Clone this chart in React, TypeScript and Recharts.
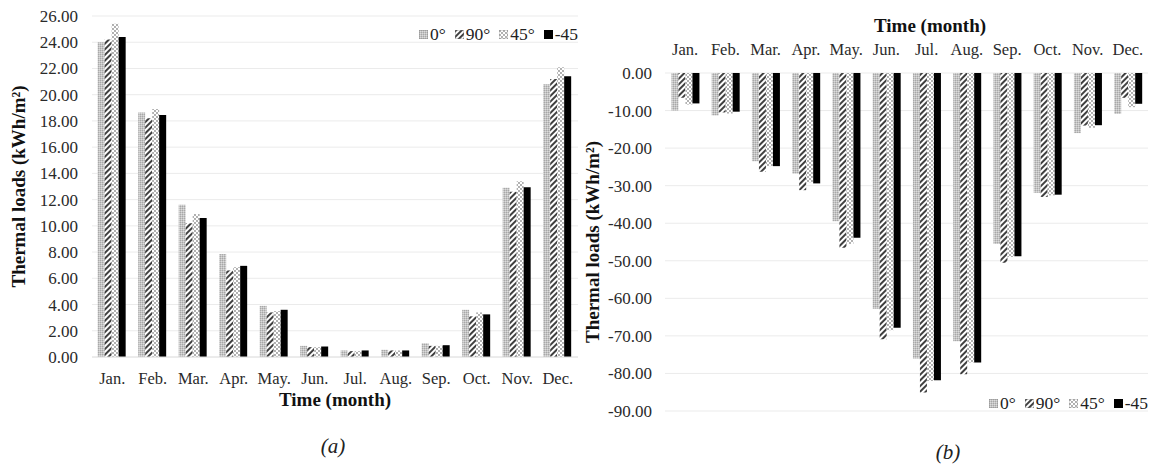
import React from 'react'
import { BarChart, Bar, XAxis, YAxis, CartesianGrid, Label } from 'recharts'

const months = ['Jan.', 'Feb.', 'Mar.', 'Apr.', 'May.', 'Jun.', 'Jul.', 'Aug.', 'Sep.', 'Oct.', 'Nov.', 'Dec.']
const orientations = ['0°', '90°', '45°', '-45']

// heating loads (kWh/m²)
const heat0 = [24.0, 18.65, 11.6, 7.85, 3.9, 0.85, 0.5, 0.55, 1.05, 3.6, 12.9, 20.8]
const heat90 = [24.2, 18.2, 10.2, 6.6, 3.4, 0.75, 0.45, 0.5, 0.85, 3.1, 12.6, 21.2]
const heat45 = [25.4, 18.9, 10.9, 6.85, 3.5, 0.75, 0.45, 0.5, 0.85, 3.4, 13.4, 22.1]
const heatM45 = [24.4, 18.45, 10.6, 6.95, 3.6, 0.8, 0.5, 0.5, 0.9, 3.25, 12.95, 21.4]

// cooling loads (kWh/m²)
const cool0 = [-10.0, -11.3, -23.5, -26.8, -39.5, -62.8, -76.0, -71.4, -45.5, -31.9, -16.0, -10.9]
const cool90 = [-6.6, -10.5, -26.3, -31.2, -46.5, -70.9, -85.1, -80.2, -50.5, -33.0, -14.0, -6.6]
const cool45 = [-8.4, -10.8, -24.8, -29.1, -45.5, -68.5, -82.0, -77.1, -49.0, -32.6, -14.6, -9.1]
const coolM45 = [-8.1, -10.3, -24.8, -29.4, -43.9, -67.8, -81.8, -77.1, -48.8, -32.4, -13.9, -8.2]

const heatTicks = [0, 2, 4, 6, 8, 10, 12, 14, 16, 18, 20, 22, 24, 26]
const coolTicks = [0, -10, -20, -30, -40, -50, -60, -70, -80, -90]

const heatData = months.map((m, i) => ({ month: m, a0: heat0[i], a90: heat90[i], a45: heat45[i], am45: heatM45[i] }))
const coolData = months.map((m, i) => ({ month: m, a0: cool0[i], a90: cool90[i], a45: cool45[i], am45: coolM45[i] }))

const FONT = "'Liberation Serif', 'Times New Roman', serif"
const KEYS = ['a0', 'a90', 'a45', 'am45']
const FILLS = ['url(#pat-0)', 'url(#pat-90)', 'url(#pat-45)', '#000']

const Patterns = () => (
  <defs>
    <pattern id="pat-0" width="2" height="2" patternUnits="userSpaceOnUse">
      <rect width="2" height="2" fill="#c4c4c4" />
      <rect width="1" height="1" fill="#a8a8a8" />
      <rect x="1" y="1" width="1" height="1" fill="#dcdcdc" />
    </pattern>
    <pattern id="pat-90" width="4" height="4" patternUnits="userSpaceOnUse" patternTransform="rotate(45)">
      <rect width="4" height="4" fill="#fff" />
      <line x1="1" y1="0" x2="1" y2="4" stroke="#2a2a2a" strokeWidth="1.8" />
    </pattern>
    <pattern id="pat-45" width="4" height="4" patternUnits="userSpaceOnUse">
      <rect width="4" height="4" fill="#fff" />
      <circle cx="1" cy="1" r="0.9" fill="#8c8c8c" />
      <circle cx="3" cy="3" r="0.9" fill="#8c8c8c" />
    </pattern>
  </defs>
)

// legend row, swatches reuse the bar patterns
const SeriesLegend = ({ style }: { style: React.CSSProperties }) => (
  <div style={{ position: 'absolute', display: 'flex', gap: 9, fontSize: 17.5, color: '#222', ...style }}>
    {orientations.map((o, i) => (
      <div key={o} style={{ display: 'flex', alignItems: 'center', gap: 2 }}>
        <svg width="9" height="9">
          <rect width="9" height="9" fill={FILLS[i]} stroke="#888" strokeWidth={i === 3 ? 0 : 0.6} />
        </svg>
        <span>{o}</span>
      </div>
    ))}
  </div>
)

const yTitle = (cx: number) =>
  // eslint-disable-next-line @typescript-eslint/no-explicit-any
  (props: any) => {
    const { viewBox } = props
    const cy = viewBox.y + viewBox.height / 2
    return (
      <text
        x={cx}
        y={cy}
        transform={`rotate(-90 ${cx} ${cy})`}
        textAnchor="middle"
        dominantBaseline="central"
        fontWeight="bold"
        fontSize={19}
        fill="#111"
      >
        Thermal loads (kWh/m²)
      </text>
    )
  }

const xTickStyle = { fontSize: 16.5, fill: '#2a2a2a' }
const yTickStyle = { fontSize: 17, fill: '#2a2a2a' }

export default function App() {
  return (
    <div style={{ position: 'absolute', left: 0, top: 0, width: 1150, height: 468, background: '#fff', fontFamily: FONT }}>
      <div style={{ position: 'absolute', left: 0, top: 0 }}>
        <BarChart width={590} height={420} data={heatData} margin={{ top: 16, right: 12, bottom: 33, left: 0 }} barCategoryGap="14%" barGap={0}>
          <Patterns />
          <CartesianGrid vertical={false} stroke="#ebebeb" />
          <XAxis dataKey="month" height={30} tickLine={false} tickSize={0} tickMargin={15} axisLine={{ stroke: '#e2e2e2' }} tick={xTickStyle} interval={0}>
            <Label value="Time (month)" position="bottom" offset={6} style={{ fontWeight: 'bold', fontSize: 19, fill: '#111' }} />
          </XAxis>
          <YAxis width={92} domain={[0, 26]} ticks={heatTicks} tickFormatter={(v: number) => v.toFixed(2)} axisLine={false} tickLine={false} tickSize={0} tickMargin={14} tick={yTickStyle} interval={0}>
            <Label content={yTitle(18)} />
          </YAxis>
          {KEYS.map((k, i) => (
            <Bar key={k} dataKey={k} name={orientations[i]} fill={FILLS[i]} isAnimationActive={false} />
          ))}
        </BarChart>
      </div>
      <SeriesLegend style={{ right: 572, top: 24 }} />

      <div style={{ position: 'absolute', left: 575, top: 0 }}>
        <BarChart width={575} height={440} data={coolData} margin={{ top: 0, right: 2, bottom: 29, left: 0 }} barCategoryGap="16%" barGap={0}>
          <Patterns />
          <CartesianGrid vertical={false} stroke="#ebebeb" />
          <XAxis dataKey="month" orientation="top" height={73} tickLine={false} tickSize={0} tickMargin={18} axisLine={false} tick={xTickStyle} interval={0}>
            <Label
              content={() => (
                <text x={355} y={25} textAnchor="middle" dominantBaseline="central" fontWeight="bold" fontSize={19} fill="#111">
                  Time (month)
                </text>
              )}
            />
          </XAxis>
          <YAxis width={90} domain={[-90, 0]} ticks={coolTicks} tickFormatter={(v: number) => v.toFixed(2)} axisLine={false} tickLine={false} tickSize={0} tickMargin={13} tick={yTickStyle} interval={0}>
            <Label content={yTitle(17)} />
          </YAxis>
          {KEYS.map((k, i) => (
            <Bar key={k} dataKey={k} name={orientations[i]} fill={FILLS[i]} isAnimationActive={false} />
          ))}
        </BarChart>
      </div>
      <SeriesLegend style={{ right: 2, top: 393 }} />

      <div style={{ position: 'absolute', left: 313, top: 434, width: 40, textAlign: 'center', fontStyle: 'italic', fontSize: 21, color: '#222' }}>(a)</div>
      <div style={{ position: 'absolute', left: 928, top: 440, width: 40, textAlign: 'center', fontStyle: 'italic', fontSize: 21, color: '#222' }}>(b)</div>
    </div>
  )
}
